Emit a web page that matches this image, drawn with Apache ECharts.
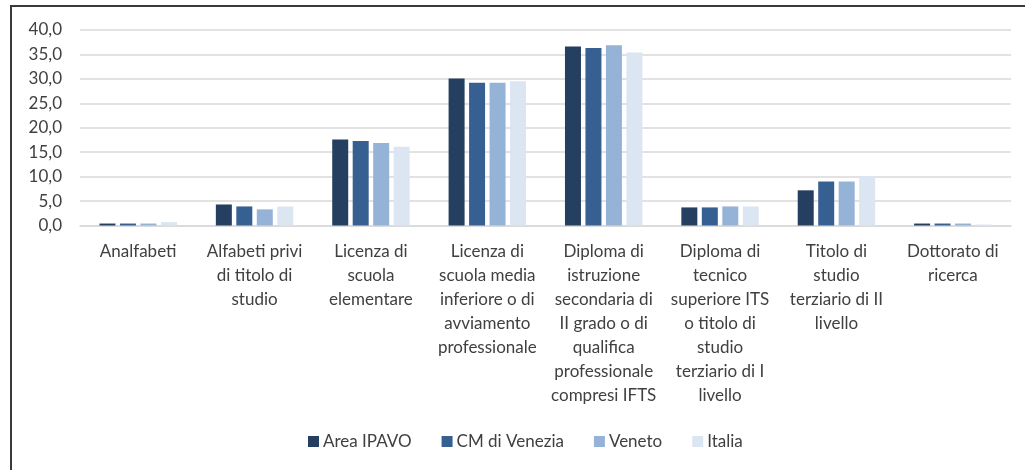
<!DOCTYPE html>
<html>
<head>
<meta charset="utf-8">
<script src="https://cdn.jsdelivr.net/npm/echarts@6/dist/echarts.min.js"></script>
<style>
  html, body { margin: 0; padding: 0; background: #fff; overflow: hidden; }
  #frame {
    position: absolute; left: 10px; top: 5px;
    width: 1100px; height: 600px;
    border: 2px solid #3a3a3a; box-sizing: border-box;
  }
  #chart { position: absolute; left: 0; top: 0; width: 1025px; height: 470px; }
</style>
</head>
<body>
<div id="frame"></div>
<div id="chart"></div>
<script>
// categorie (a capo come nel grafico originale)
const categories = [
  'Analfabeti',
  'Alfabeti privi\ndi titolo di\nstudio',
  'Licenza di\nscuola\nelementare',
  'Licenza di\nscuola media\ninferiore o di\navviamento\nprofessionale',
  'Diploma di\nistruzione\nsecondaria di\nII grado o di\nqualifica\nprofessionale\ncompresi IFTS',
  'Diploma di\ntecnico\nsuperiore ITS\no titolo di\nstudio\nterziario di I\nlivello',
  'Titolo di\nstudio\nterziario di II\nlivello',
  'Dottorato di\nricerca'
]

const seriesNames = ['Area IPAVO', 'CM di Venezia', 'Veneto', 'Italia']
const colors = ['#253f60', '#366092', '#95b3d7', '#dce6f2']

// valori (%)
const areaIpavo  = [0.4, 4.3, 17.6, 30.1, 36.6, 3.7, 7.2, 0.4]
const cmVenezia  = [0.4, 3.9, 17.3, 29.2, 36.3, 3.7, 9.0, 0.4]
const veneto     = [0.4, 3.3, 16.9, 29.2, 36.9, 3.9, 9.0, 0.4]
const italia     = [0.7, 3.9, 16.1, 29.5, 35.4, 3.9, 10.1, 0.2]

const yTicks = { min: 0, max: 40, interval: 5 }

const allData = [areaIpavo, cmVenezia, veneto, italia]
const fontFamily = 'Lato, "Open Sans", sans-serif'

const chart = echarts.init(document.getElementById('chart'))
chart.setOption({
  animation: false,
  textStyle: { fontFamily: fontFamily },
  grid: { left: 80, right: 14, top: 30, height: 195.5 },
  legend: {
    data: seriesNames,
    bottom: 15,
    left: 303,
    icon: 'rect',
    itemWidth: 11,
    itemHeight: 11,
    itemGap: 30,
    textStyle: { fontSize: 17, color: '#404040', fontFamily: fontFamily, padding: [0, 0, 0, -1] }
  },
  xAxis: {
    type: 'category',
    data: categories,
    axisTick: { show: false },
    axisLine: { lineStyle: { color: '#d9d9d9', width: 1.5 } },
    axisLabel: {
      interval: 0,
      margin: 14,
      color: '#404040',
      fontSize: 17,
      lineHeight: 24,
      align: 'center',
      verticalAlign: 'top'
    }
  },
  yAxis: {
    type: 'value',
    min: yTicks.min,
    max: yTicks.max,
    interval: yTicks.interval,
    axisLine: { show: false },
    axisTick: { show: false },
    splitLine: { lineStyle: { color: '#d9d9d9', width: 1.5 } },
    axisLabel: {
      margin: 18,
      color: '#404040',
      fontSize: 17,
      formatter: v => v.toFixed(1).replace('.', ',')
    }
  },
  series: seriesNames.map((name, i) => ({
    name: name,
    type: 'bar',
    data: allData[i],
    barWidth: 16,
    barGap: '28%',
    itemStyle: { color: colors[i] }
  }))
})
</script>
</body>
</html>
